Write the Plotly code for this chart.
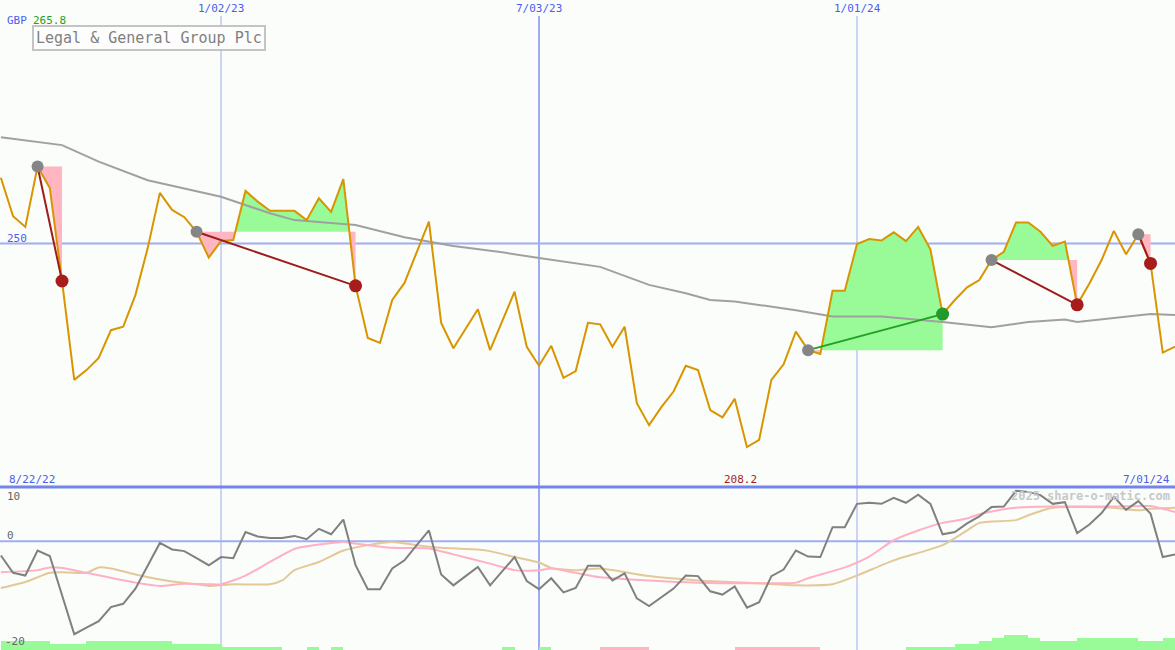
import plotly.graph_objects as go
import pandas as pd
import numpy as np

# ---------------- data (weekly, from 2022-08-29) ----------------
start = pd.Timestamp('2022-08-29')
price = [263.5, 255.6, 253.4, 265.8, 261.4, 242.3, 222.0, 224.0, 226.5, 232.2,
         232.9, 239.4, 249.0, 260.4, 256.9, 255.4, 252.4, 247.1, 250.5, 250.7,
         260.8, 258.6, 256.7, 256.7, 256.7, 254.8, 259.3, 256.5, 263.2, 241.3,
         230.6, 229.6, 238.4, 241.9, 248.3, 254.5, 233.7, 228.5, 232.5, 236.5,
         228.1, 234.1, 240.1, 228.8, 224.9, 229.0, 222.4, 223.8, 233.7, 233.4,
         228.8, 232.9, 217.2, 212.7, 216.4, 219.6, 224.9, 224.0, 215.8, 214.3,
         218.1, 208.2, 209.7, 222.0, 225.2, 231.9, 228.1, 227.3, 240.3, 240.3,
         249.9, 250.9, 250.6, 252.3, 250.5, 253.4, 248.8, 235.5, 238.4, 241.0,
         242.5, 246.6, 248.3, 254.3, 254.3, 252.4, 249.5, 250.4, 237.4, 241.8,
         246.6, 252.6, 247.8, 251.9, 245.9, 227.6, 228.8]

ma_week = [0, 3, 5, 8, 12, 18, 22, 24, 29, 33, 37, 41, 44, 49, 53, 56, 58, 60,
           63, 65, 68, 72, 77, 81, 84, 87, 88, 94, 96]
ma_vals = [271.8, 270.8, 270.2, 266.8, 263.0, 259.6, 256.2, 254.8, 253.8, 251.3,
           249.5, 248.2, 247.0, 245.2, 241.5, 239.8, 238.4, 238.1, 237.0, 236.3,
           235.0, 235.0, 233.9, 232.8, 233.9, 234.4, 233.9, 235.5, 235.3]

osc = [-2.6, -5.8, -6.3, -1.7, -2.7, -10.1, -17.1, -15.9, -14.7, -12.1,
       -11.5, -8.7, -4.4, -0.3, -1.5, -1.8, -3.1, -4.4, -2.9, -3.1,
       1.7, 0.9, 0.6, 0.6, 1.0, 0.4, 2.3, 1.3, 4.0, -4.4,
       -8.8, -8.8, -5.0, -3.5, -0.7, 2.0, -6.1, -8.1, -6.4, -4.7,
       -8.1, -5.5, -2.9, -7.3, -8.8, -6.8, -9.4, -8.6, -4.5, -4.5,
       -7.2, -5.9, -10.5, -11.9, -10.3, -8.7, -6.3, -6.4, -9.2, -9.8,
       -8.3, -12.2, -11.2, -6.4, -5.2, -1.7, -2.8, -2.9, 2.6, 2.6,
       6.9, 7.1, 6.9, 8.0, 7.1, 8.6, 6.9, 1.3, 1.7, 3.3,
       4.6, 6.3, 6.4, 9.3, 9.1, 8.5, 6.9, 7.2, 1.5, 3.1,
       5.2, 8.2, 5.8, 7.4, 5.1, -2.9, -2.4]

pink_week = [0, 3, 4, 5, 7, 11, 13, 15, 17, 18, 20, 22, 24, 26, 28, 29, 32, 35, 37,
             40, 42, 44, 45, 47, 49, 53, 57, 61, 65, 66, 69, 71, 73, 75, 77, 79, 80,
             82, 83, 86, 89, 91, 94, 95, 96]
pink_vals = [-5.7, -5.3, -4.8, -4.9, -5.8, -7.6, -8.2, -7.8, -7.9, -7.9, -6.3, -3.8,
             -1.4, -0.6, -0.1, -0.4, -1.2, -1.3, -2.4, -4.1, -5.3, -5.3, -5.0, -5.8,
             -6.6, -7.2, -7.6, -7.7, -7.6, -6.8, -4.8, -2.8, 0.2, 2.0, 3.4, 4.2, 5.0,
             5.9, 6.2, 6.4, 6.4, 6.4, 6.5, 6.0, 5.4]

tan_week = [0, 2, 4, 5, 7, 8, 9, 11, 14, 16, 17, 19, 22, 23, 24, 26, 28, 30, 32, 34,
            36, 39, 40, 42, 44, 45, 47, 49, 53, 57, 61, 65, 68, 70, 73, 77, 79, 80,
            83, 84, 86, 88, 91, 93, 94, 96]
tan_vals = [-8.6, -7.5, -5.8, -5.7, -5.8, -4.8, -5.0, -6.1, -7.4, -7.9, -8.2, -7.9,
            -7.9, -7.2, -5.3, -3.8, -1.7, -0.7, -0.1, -0.7, -1.2, -1.5, -1.8, -2.9,
            -3.9, -4.9, -5.3, -5.0, -6.4, -7.2, -7.6, -8.1, -7.9, -6.3, -3.5, -0.7,
            2.0, 3.4, 3.9, 4.8, 6.2, 6.3, 6.2, 5.7, 6.0, 6.2]

# weekly histogram levels (positive = green, negative = pink)
hist = [3, 3, 3, 3, 2, 2, 2, 3, 3, 3, 3, 3, 3, 3, 2, 2, 2, 2, 1, 1,
        1, 1, 1, 0, 0, 1, 0, 1, 0, 0, 0, 0, 0, 0, 0, 0, 0, 0, 0, 0,
        0, 1, 0, 0, 1, 0, 0, 0, 0, -1, -1, -1, -1, 0, 0, 0, 0, 0, 0, 0,
        -1, -1, -1, -1, -1, -1, -1, 0, 0, 0, 0, 0, 0, 0, 1, 1, 1, 1, 2, 2,
        3, 4, 5, 5, 4, 3, 3, 3, 4, 4, 4, 4, 4, 3, 3, 4]

trades = [(3, 5), (16, 29), (66, 77), (81, 88), (93, 94)]

x_labels = ['1/02/23', '7/03/23', '1/01/24']
x_label_dates = ['2023-01-02', '2023-07-03', '2024-01-01']

# ---------------- helpers ----------------
def wdate(i):
    return start + pd.Timedelta(days=7 * i)

dates = [wdate(i) for i in range(len(price))]
W, H = 1175, 650
split = 163 / H

ORANGE = '#d99500'
GREENF = '#98fb98'
PINKF = '#ffb6c1'
BLUE_T = '#4a5ef0'

fig = go.Figure()

# trade fills
for e, x in trades:
    lvl = price[e]
    pts = [(e, price[e])]
    for i in range(e, x):
        a, b = price[i] - lvl, price[i + 1] - lvl
        if a * b < 0:
            t = a / (a - b)
            pts.append((i + t, lvl))
        pts.append((i + 1, price[i + 1]))
    runs = []
    cur = [pts[0]]
    cs = 0
    for p, q in zip(pts[:-1], pts[1:]):
        s = np.sign((p[1] + q[1]) / 2 - lvl)
        if cs == 0 or s == cs or s == 0:
            cur.append(q)
            if s != 0:
                cs = s
        else:
            runs.append((cs, cur))
            cur = [p, q]
            cs = s
    runs.append((cs, cur))
    for s, r in runs:
        poly = [(r[0][0], lvl)] + r + [(r[-1][0], lvl)]
        fig.add_trace(go.Scatter(
            x=[wdate(p[0]) for p in poly], y=[p[1] for p in poly],
            fill='toself', fillcolor=GREENF if s > 0 else PINKF,
            line=dict(width=0), mode='lines', hoverinfo='skip'))

# moving average
fig.add_trace(go.Scatter(x=[wdate(i) for i in ma_week], y=ma_vals, mode='lines',
                         line=dict(color='#a0a0a0', width=2)))
# price
fig.add_trace(go.Scatter(x=dates, y=price, mode='lines',
                         line=dict(color=ORANGE, width=2)))
# trade lines & markers
for e, x in trades:
    win = price[x] > price[e]
    fig.add_trace(go.Scatter(x=[dates[e], dates[x]], y=[price[e], price[x]], mode='lines',
                             line=dict(color='#22a022' if win else '#a01c1c', width=2)))
for e, x in trades:
    win = price[x] > price[e]
    fig.add_trace(go.Scatter(x=[dates[e]], y=[price[e]], mode='markers',
                             marker=dict(color='#858585', size=12)))
    fig.add_trace(go.Scatter(x=[dates[x]], y=[price[x]], mode='markers',
                             marker=dict(color='#22992a' if win else '#a81c1c', size=13)))

# lower panel: histogram
hx = [wdate(i + 0.5) for i in range(len(hist))]
fig.add_trace(go.Bar(x=hx, y=[abs(v) for v in hist], yaxis='y3',
                     width=7 * 24 * 3600 * 1000,
                     marker=dict(color=[GREENF if v > 0 else PINKF for v in hist], line=dict(width=0))))
fig.add_trace(go.Scatter(x=[wdate(i) for i in tan_week], y=tan_vals, yaxis='y2', mode='lines',
                         line=dict(color='#e3c898', width=2, shape='spline', smoothing=0.6)))
fig.add_trace(go.Scatter(x=[wdate(i) for i in pink_week], y=pink_vals, yaxis='y2', mode='lines',
                         line=dict(color='#ffb0c4', width=2, shape='spline', smoothing=0.6)))
fig.add_trace(go.Scatter(x=dates, y=osc, yaxis='y2', mode='lines',
                         line=dict(color='#808080', width=2)))

# ---------------- shapes ----------------
shapes = []
for d, lab in zip(x_label_dates, x_labels):
    wdt = 2 if lab == '7/03/23' else 1
    shapes.append(dict(type='line', xref='x', yref='paper', x0=d, x1=d, y0=0, y1=1 - 16 / H,
                       line=dict(color='#a0aaf0', width=wdt), layer='below'))
shapes.append(dict(type='line', xref='paper', yref='y', x0=0, x1=1, y0=250, y1=250,
                   line=dict(color='#a0aef2', width=2), layer='below'))
shapes.append(dict(type='line', xref='paper', yref='y2', x0=0, x1=1, y0=0, y1=0,
                   line=dict(color='#a0aef2', width=2), layer='below'))
shapes.append(dict(type='line', xref='paper', yref='paper', x0=0, x1=1, y0=split, y1=split,
                   line=dict(color='#7584ea', width=3)))

# ---------------- annotations ----------------
MONO = 'DejaVu Sans Mono'
def txt(t, px, py, color, size=11, xa='left', bold=False):
    return dict(text=('<b>%s</b>' % t) if bold else t, x=px / W, y=1 - py / H,
                xref='paper', yref='paper', xanchor=xa, yanchor='middle',
                showarrow=False, font=dict(family=MONO, size=size, color=color))

ann = []
for d, lab in zip(x_label_dates, x_labels):
    a = dict(text=lab, x=d, y=1 - 9 / H, xref='x', yref='paper', xanchor='center',
             yanchor='middle', showarrow=False, font=dict(family=MONO, size=11, color=BLUE_T))
    ann.append(a)
ann.append(txt('GBP', 5, 20, BLUE_T))
ann.append(txt('265.8', 31, 20, '#22a022'))
ann.append(dict(text='Legal &amp; General Group Plc', x=32 / W, y=1 - 25 / H, xref='paper',
                yref='paper', xanchor='left', yanchor='top', showarrow=False,
                font=dict(family=MONO, size=15, color='#808080'),
                bordercolor='#c4c4c4', borderwidth=2, borderpad=2, bgcolor='#fdfdfd'))
ann.append(txt('250', 5, 238, BLUE_T))
ann.append(txt('8/22/22', 7, 479, BLUE_T))
ann.append(txt('208.2', 740, 479, '#aa1c1c', xa='center'))
ann.append(txt('7/01/24', 1172, 479, BLUE_T, xa='right'))
ann.append(txt('10', 5, 496, '#666666'))
ann.append(txt('0', 5, 535, '#666666'))
ann.append(txt('-20', 3, 641, '#666666'))
ann.append(txt('2025 share-o-matic.com', 1172, 496, '#c8c8c8', size=12, xa='right', bold=True))

fig.update_layout(
    width=W, height=H, margin=dict(l=0, r=0, t=0, b=0),
    paper_bgcolor='#fafdfa', plot_bgcolor='#fafdfa', showlegend=False,
    xaxis=dict(type='date', range=[start - pd.Timedelta(hours=12), wdate(96)],
               visible=False, showgrid=False, zeroline=False),
    yaxis=dict(domain=[split, 1], range=[200, 300], visible=False, showgrid=False),
    yaxis2=dict(domain=[0, split], range=[-20, 10], visible=False, showgrid=False),
    yaxis3=dict(domain=[0, split], range=[0, 163 / 3], overlaying='y2', visible=False,
                showgrid=False),
    shapes=shapes, annotations=ann, bargap=0,
)
fig.write_html('out.html', config={'displayModeBar': False},
               post_script="document.body.style.margin='0px';")
